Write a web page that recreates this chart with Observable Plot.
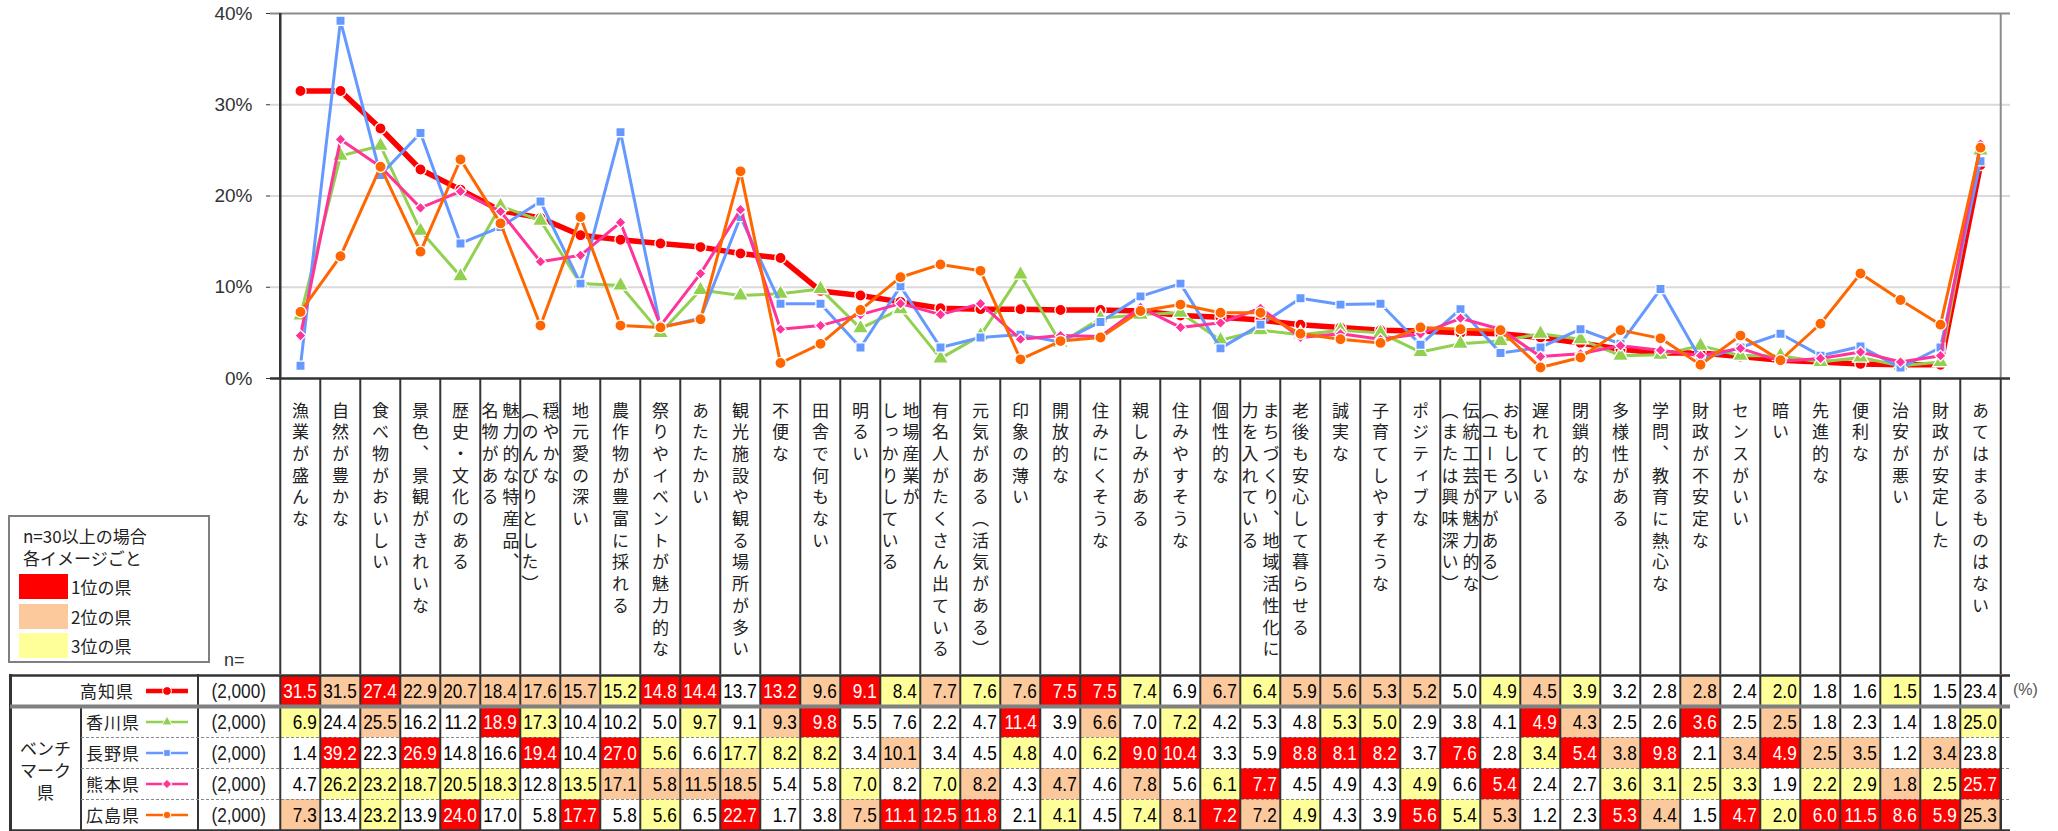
<!DOCTYPE html>
<html><head><meta charset="utf-8">
<script src="https://cdn.jsdelivr.net/npm/d3@7"></script>
<script src="https://cdn.jsdelivr.net/npm/@observablehq/plot@0.6"></script>
<style>
html,body{margin:0;padding:0;background:#fff;}
#root{position:relative;width:2058px;height:831px;overflow:hidden;font-family:"Noto Sans CJK JP",sans-serif;color:#222;}
#root > svg, #root > div{position:absolute;}
</style></head><body><div id="root"></div>
<script>
// ---------------- data ----------------
const categories = [
  "漁業が盛んな","自然が豊かな","食べ物がおいしい","景色、景観がきれいな","歴史・文化のある",
  "魅力的な特産品、\n名物がある","穏やかな\n（のんびりとした）","地元愛の深い","農作物が豊富に採れる","祭りやイベントが魅力的な",
  "あたたかい","観光施設や観る場所が多い","不便な","田舎で何もない","明るい",
  "地場産業が\nしっかりしている","有名人がたくさん出ている","元気がある（活気がある）","印象の薄い","開放的な",
  "住みにくそうな","親しみがある","住みやすそうな","個性的な","まちづくり、地域活性化に\n力を入れている",
  "老後も安心して暮らせる","誠実な","子育てしやすそうな","ポジティブな","伝統工芸が魅力的な\n（または興味深い）",
  "おもしろい\n（ユーモアがある）","遅れている","閉鎖的な","多様性がある","学問、教育に熱心な",
  "財政が不安定な","センスがいい","暗い","先進的な","便利な",
  "治安が悪い","財政が安定した","あてはまるものはない"
];
const prefectures = ["高知県","香川県","長野県","熊本県","広島県"];
const sampleSizes = ["(2,000)","(2,000)","(2,000)","(2,000)","(2,000)"];
const groupLabel = ["ベンチ","マーク","県"];
const kochi     = [31.5,31.5,27.4,22.9,20.7,18.4,17.6,15.7,15.2,14.8,14.4,13.7,13.2,9.6,9.1,8.4,7.7,7.6,7.6,7.5,7.5,7.4,6.9,6.7,6.4,5.9,5.6,5.3,5.2,5.0,4.9,4.5,3.9,3.2,2.8,2.8,2.4,2.0,1.8,1.6,1.5,1.5,23.4];
const kagawa    = [6.9,24.4,25.5,16.2,11.2,18.9,17.3,10.4,10.2,5.0,9.7,9.1,9.3,9.8,5.5,7.6,2.2,4.7,11.4,3.9,6.6,7.0,7.2,4.2,5.3,4.8,5.3,5.0,2.9,3.8,4.1,4.9,4.3,2.5,2.6,3.6,2.5,2.5,1.8,2.3,1.4,1.8,25.0];
const nagano    = [1.4,39.2,22.3,26.9,14.8,16.6,19.4,10.4,27.0,5.6,6.6,17.7,8.2,8.2,3.4,10.1,3.4,4.5,4.8,4.0,6.2,9.0,10.4,3.3,5.9,8.8,8.1,8.2,3.7,7.6,2.8,3.4,5.4,3.8,9.8,2.1,3.4,4.9,2.5,3.5,1.2,3.4,23.8];
const kumamoto  = [4.7,26.2,23.2,18.7,20.5,18.3,12.8,13.5,17.1,5.8,11.5,18.5,5.4,5.8,7.0,8.2,7.0,8.2,4.3,4.7,4.6,7.8,5.6,6.1,7.7,4.5,4.9,4.3,4.9,6.6,5.4,2.4,2.7,3.6,3.1,2.5,3.3,1.9,2.2,2.9,1.8,2.5,25.7];
const hiroshima = [7.3,13.4,23.2,13.9,24.0,17.0,5.8,17.7,5.8,5.6,6.5,22.7,1.7,3.8,7.5,11.1,12.5,11.8,2.1,4.1,4.5,7.4,8.1,7.2,7.2,4.9,4.3,3.9,5.6,5.4,5.3,1.2,2.3,5.3,4.4,1.5,4.7,2.0,6.0,11.5,8.6,5.9,25.3];
// national ranking highlight (1 = 1位, 2 = 2位, 3 = 3位, 0 = none)
const rankKochi     = [1,2,1,2,2,2,2,2,3,1,1,0,1,2,1,3,2,3,2,1,1,3,0,2,3,2,2,2,2,0,3,2,3,0,0,2,0,3,0,0,3,0,0];
const rankKagawa    = [3,0,2,0,0,1,3,0,0,0,3,0,2,1,0,0,0,0,1,0,2,0,3,0,0,0,3,3,0,0,0,1,2,0,0,1,0,2,0,0,0,0,3];
const rankNagano    = [0,1,0,1,0,0,1,0,1,3,0,3,3,3,0,2,0,0,3,0,3,1,1,0,0,1,1,1,0,1,0,3,1,2,1,0,2,1,2,2,0,2,0];
const rankKumamoto  = [0,3,3,3,3,3,0,3,2,2,2,2,0,0,3,0,3,2,0,2,0,2,0,3,1,0,0,0,3,0,1,0,0,3,3,3,3,0,3,3,2,3,1];
const rankHiroshima = [2,0,3,0,1,0,0,1,0,3,0,1,0,0,2,1,1,1,0,3,0,3,2,1,2,3,0,0,1,3,2,0,0,1,2,0,1,3,1,1,1,1,2];
const yTicks = [0,10,20,30,40];
const legendTitle = ["n=30以上の場合","各イメージごと"];
const legendLabels = ["1位の県","2位の県","3位の県"];

// ---------------- styles ----------------
const seriesColors  = ["#ff0000","#92d050","#6699ff","#ff3399","#ff6600"];
const seriesSymbols = ["circle","triangle","square","diamond2","circle"];
const seriesWidths  = [5.5,3,3,3,3];
const seriesR       = [5.6,6,5.2,5,5.6];
const rankColors    = ["#ffffff","#ff0000","#fbc99b","#ffff99"];

// ---------------- build ----------------
const root = document.getElementById("root");
const W = 2058, L = 270, R = 2010;
const keys = categories.map(c => c.replace(/\n/g, ""));
const bw = (R - L) / keys.length;
const seriesValues = [kochi, kagawa, nagano, kumamoto, hiroshima];
const seriesRanks = [rankKochi, rankKagawa, rankNagano, rankKumamoto, rankHiroshima];
const rows = [];
prefectures.forEach((p, s) => seriesValues[s].forEach((v, i) =>
  rows.push({pref: p, cat: keys[i], value: v, rank: seriesRanks[s][i]})));

function hasFont(name) {
  const c = document.createElement("canvas").getContext("2d");
  c.font = "40px monospace"; const w0 = c.measureText("31.5 (2,000) abc").width;
  c.font = `40px "${name}", monospace`; return c.measureText("31.5 (2,000) abc").width !== w0;
}
const narrowOK = hasFont("Liberation Sans Narrow");
const numFont = narrowOK ? '"Liberation Sans Narrow", sans-serif' : '"Liberation Sans", Arial, sans-serif';

// chart
const chartMarks = [
  Plot.ruleY([10, 20, 30], {stroke: "#d9d9d9", strokeWidth: 2}),
  Plot.ruleY([40], {stroke: "#8c8c8c", strokeWidth: 2}),
  Plot.ruleX([keys[keys.length - 1]], {dx: bw / 2, stroke: "#8c8c8c", strokeWidth: 2})
];
prefectures.forEach((p, s) => {
  const data = rows.filter(d => d.pref === p);
  chartMarks.push(Plot.line(data, {x: "cat", y: "value", stroke: seriesColors[s], strokeWidth: seriesWidths[s], strokeLinejoin: "round"}));
  chartMarks.push(Plot.dot(data, {x: "cat", y: "value", symbol: seriesSymbols[s], r: seriesR[s], fill: seriesColors[s], stroke: "#fff", strokeWidth: 1.3}));
});
chartMarks.push(
  Plot.ruleX([keys[0]], {dx: -bw / 2, stroke: "#333", strokeWidth: 2.5}),
  Plot.ruleY([0], {stroke: "#333", strokeWidth: 2.5})
);
const chart = Plot.plot({
  width: W, height: 380, marginLeft: L, marginRight: W - R, marginTop: 13, marginBottom: 2,
  style: {fontFamily: '"Liberation Sans", Arial, sans-serif', fontSize: "19px", color: "#333", background: "transparent", overflow: "visible"},
  x: {type: "point", domain: keys, range: [L, R], padding: 0.5, axis: null},
  y: {domain: [0, 40], range: [378, 13], ticks: yTicks, tickFormat: d => d + "%", tickSize: 4, tickPadding: 14, label: null},
  marks: chartMarks
});
chart.style.left = "0px"; chart.style.top = "0px";
root.appendChild(chart);

// category labels (vertical)
const labelRows = [];
categories.forEach((c, i) => {
  const lines = c.split("\n");
  lines.forEach((ln, j) => labelRows.push({cat: keys[i], text: ln, pos: lines.length === 1 ? 0 : (j === 0 ? 1 : -1)}));
});
const lblOpts = {x: "cat", text: "text", frameAnchor: "top", dy: 11, textAnchor: "start", fill: "#222", fontSize: 17};
const labels = Plot.plot({
  width: W, height: 296, marginLeft: L, marginRight: W - R, marginTop: 0, marginBottom: 0,
  style: {fontFamily: '"Noto Sans CJK JP", sans-serif', background: "transparent", overflow: "visible"},
  x: {type: "band", domain: keys, range: [L, R], padding: 0, axis: null},
  marks: [
    Plot.ruleX(keys, {dx: -bw / 2, stroke: "#333", strokeWidth: 2}),
    Plot.ruleX([keys[keys.length - 1]], {dx: bw / 2, stroke: "#333", strokeWidth: 2}),
    Plot.text(labelRows.filter(d => d.pos === 0), lblOpts),
    Plot.text(labelRows.filter(d => d.pos === 1), {...lblOpts, dx: 10.5}),
    Plot.text(labelRows.filter(d => d.pos === -1), {...lblOpts, dx: -10.5})
  ]
});
d3.select(labels).selectAll("text").each(function() {
  this.setAttribute("writing-mode", "vertical-rl");
  this.style.writingMode = "vertical-rl";
  this.style.letterSpacing = "4.7px";
  this.removeAttribute("dy");
});
labels.style.left = "0px"; labels.style.top = "378px";
root.appendChild(labels);

// left part of the table (HTML)
function div(style, text) {
  const d = document.createElement("div");
  d.style.cssText = "position:absolute;white-space:nowrap;" + style;
  if (text != null) d.textContent = text;
  root.appendChild(d); return d;
}
const tTop = 673, rh = 31;
const rowCenter = i => tTop + 2 + i * rh + rh / 2;
div(`left:9px;top:674px;width:2.5px;height:157px;background:#333`);
div(`left:80px;top:706px;width:2px;height:124px;background:#333`);
div(`left:197px;top:674px;width:2px;height:157px;background:#333`);
groupLabel.forEach((t, k) => div(`left:10px;width:71px;text-align:center;top:${737 + k * 22}px;font-size:17px;line-height:22px`, t));
prefectures.forEach((p, s) => {
  const cy = rowCenter(s);
  div(`left:${s === 0 ? 80 : 86}px;top:${cy - 12}px;font-size:17px;line-height:24px;letter-spacing:1px`, p);
  div(`left:198px;width:68px;text-align:right;top:${cy - 13}px;font-size:21px;line-height:26px;font-family:${numFont};${narrowOK ? "" : "transform:scaleX(0.82);transform-origin:right center;"}`, sampleSizes[s]);
  const sv = d3.create("svg").attr("width", 44).attr("height", 16)
    .style("position", "absolute").style("left", "145px").style("top", (cy - 8) + "px");
  sv.append("line").attr("x1", 1).attr("x2", 43).attr("y1", 8).attr("y2", 8)
    .attr("stroke", seriesColors[s]).attr("stroke-width", s === 0 ? 4.5 : 2.5);
  const sym = {circle: d3.symbolCircle, triangle: d3.symbolTriangle, square: d3.symbolSquare, diamond2: d3.symbolSquare}[seriesSymbols[s]];
  sv.append("path").attr("d", d3.symbol(sym, s === 0 ? 60 : 45)())
    .attr("transform", `translate(22,8)${seriesSymbols[s] === "diamond2" ? " rotate(45)" : ""}`)
    .attr("fill", seriesColors[s]).attr("stroke", "#fff").attr("stroke-width", 1);
  root.appendChild(sv.node());
});
div(`left:2013px;top:679px;font-size:16px;line-height:22px;color:#555;font-family:${numFont}`, "(%)");

// table cells
const tMarks = [
  Plot.cell(rows, {x: "cat", y: "pref", fill: "rank"}),
  Plot.text(rows.filter(d => d.rank !== 1), {x: "cat", y: "pref", text: d => d.value.toFixed(1), textAnchor: "end", dx: bw / 2 - 4, fill: "#000", fontSize: 21, fontFamily: numFont}),
  Plot.text(rows.filter(d => d.rank === 1), {x: "cat", y: "pref", text: d => d.value.toFixed(1), textAnchor: "end", dx: bw / 2 - 4, fill: "#fff", fontSize: 21, fontFamily: numFont}),
  Plot.ruleY(prefectures.slice(2), {y: d => d, dy: -rh / 2, stroke: "#8a8a8a", strokeWidth: 1, strokeDasharray: "3,2", insetLeft: -(L - 81)}),
  Plot.ruleX(keys, {dx: -bw / 2, stroke: "#333", strokeWidth: 2}),
  Plot.ruleX([keys[keys.length - 1]], {dx: bw / 2, stroke: "#333", strokeWidth: 2.5}),
  Plot.ruleY([prefectures[1]], {y: d => d, dy: -rh / 2, stroke: "#808080", strokeWidth: 4, insetLeft: -(L - 10)}),
  Plot.ruleY([prefectures[0]], {y: d => d, dy: -rh / 2, stroke: "#333", strokeWidth: 2.5, insetLeft: -(L - 10)}),
  Plot.ruleY([prefectures[4]], {y: d => d, dy: rh / 2, stroke: "#333", strokeWidth: 2.5, insetLeft: -(L - 10)})
];
const table = Plot.plot({
  width: W, height: 158, marginLeft: L, marginRight: W - R, marginTop: 2, marginBottom: 1,
  style: {background: "transparent", overflow: "visible"},
  x: {type: "band", domain: keys, range: [L, R], padding: 0, axis: null},
  y: {type: "band", domain: prefectures, range: [2, 2 + rh * 5], padding: 0, axis: null},
  color: {type: "ordinal", domain: [0, 1, 2, 3], range: rankColors},
  marks: tMarks
});
if (!narrowOK) {
  d3.select(table).selectAll("text").each(function() {
    const t = this.getAttribute("transform");
    if (t) this.setAttribute("transform", t + " scale(0.82,1)");
    else {
      const x = +this.getAttribute("x") || 0, y = +this.getAttribute("y") || 0;
      this.setAttribute("x", 0); this.setAttribute("y", 0);
      this.setAttribute("transform", `translate(${x},${y}) scale(0.82,1)`);
    }
  });
}
table.style.left = "0px"; table.style.top = tTop + "px";
root.appendChild(table);

// legend box
div(`left:8px;top:515px;width:198px;height:144px;border:2px solid #7f7f7f;background:#fff`);
legendTitle.forEach((t, k) => div(`left:23px;top:${525 + k * 22}px;font-size:17px;line-height:22px`, t));
legendLabels.forEach((t, k) => {
  div(`left:19px;top:${574 + k * 29.5}px;width:49px;height:25px;background:${rankColors[k + 1]}`);
  div(`left:71px;top:${574 + k * 29.5}px;font-size:17px;line-height:25px`, t);
});
div(`left:224px;top:648px;font-size:18px;line-height:24px;color:#333;font-family:"Liberation Sans",Arial,sans-serif`, "n=");
</script></body></html>
